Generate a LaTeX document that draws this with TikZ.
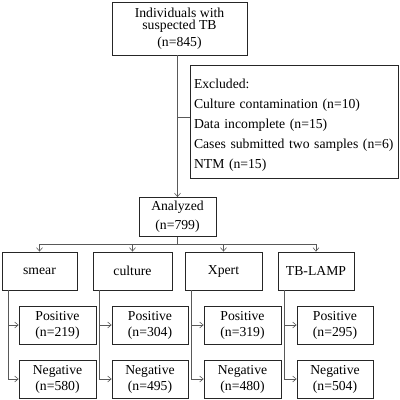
\documentclass[tikz,border=0pt]{standalone}
\usepackage{fontspec}
\setmainfont{Liberation Serif}
\usetikzlibrary{arrows.meta,calc}
\begin{document}
\begin{tikzpicture}[x=1pt,y=-1pt,
  font=\fontsize{13.7}{16}\selectfont,
  box/.style={draw=black!85,line width=0.8pt,rectangle,inner sep=0pt,align=center},
  conn/.style={draw=black!65,line width=0.6pt},
  arr/.style={conn,-{Straight Barb[length=3.5pt,width=6pt]}}]
\useasboundingbox (0,0) rectangle (400,400);
% boxes
\node[box,minimum width=135,minimum height=53] (top) at (179.5,28.5)
  {Individuals with\\[-3.5pt]suspected TB\\[1pt](n=845)};
\node[box,minimum width=208,minimum height=113,align=left,text width=200pt,font=\fontsize{13.7}{20}\selectfont] (excl) at (294,121.5)
  {\rule{0pt}{16pt}Excluded:\\Culture contamination (n=10)\\Data incomplete (n=15)\\Cases submitted two samples (n=6)\\NTM (n=15)};
\node[box,minimum width=77,minimum height=39,font=\fontsize{13.7}{19}\selectfont] (ana) at (177.5,217) {Analyzed\\(n=799)};
\node[box,minimum width=75,minimum height=38] (smear) at (39.5,271) {smear};
\node[box,minimum width=79,minimum height=38] (cult) at (132.5,271) {culture};
\node[box,minimum width=77,minimum height=38] (xpert) at (223.5,271) {Xpert};
\node[box,minimum width=76,minimum height=38] (lamp) at (316,271) {TB-LAMP};
\node[box,minimum width=77,minimum height=38] (spos) at (57.5,325) {Positive\\(n=219)};
\node[box,minimum width=77,minimum height=38] (sneg) at (57.5,379) {Negative\\(n=580)};
\node[box,minimum width=76,minimum height=38] (cpos) at (150,325) {Positive\\(n=304)};
\node[box,minimum width=76,minimum height=38] (cneg) at (150,379) {Negative\\(n=495)};
\node[box,minimum width=77,minimum height=38] (xpos) at (242.5,325) {Positive\\(n=319)};
\node[box,minimum width=77,minimum height=38] (xneg) at (242.5,379) {Negative\\(n=480)};
\node[box,minimum width=76,minimum height=38] (lpos) at (335,325) {Positive\\(n=295)};
\node[box,minimum width=76,minimum height=38] (lneg) at (335,379) {Negative\\(n=504)};
% connectors
\draw[arr] (top.south -| ana) -- (ana.north);
\coordinate (j) at (177.5,117);
\draw[conn] (j) -- (j -| excl.west);
\coordinate (bus) at (177.5,244);
\draw[conn] (ana.south) -- (bus);
\draw[conn] (bus -| smear) -- (bus -| lamp);
\foreach \b in {smear,cult,xpert,lamp}{
  \draw[arr] (bus -| \b) -- (\b.north);
}
\foreach \b/\p/\n in {smear/spos/sneg,cult/cpos/cneg,xpert/xpos/xneg,lamp/lpos/lneg}{
  \draw[arr] ([xshift=7pt]\b.south west) |- (\p.west);
  \draw[arr] ([xshift=7pt]\b.south west) |- (\n.west);
}
\end{tikzpicture}
\end{document}
